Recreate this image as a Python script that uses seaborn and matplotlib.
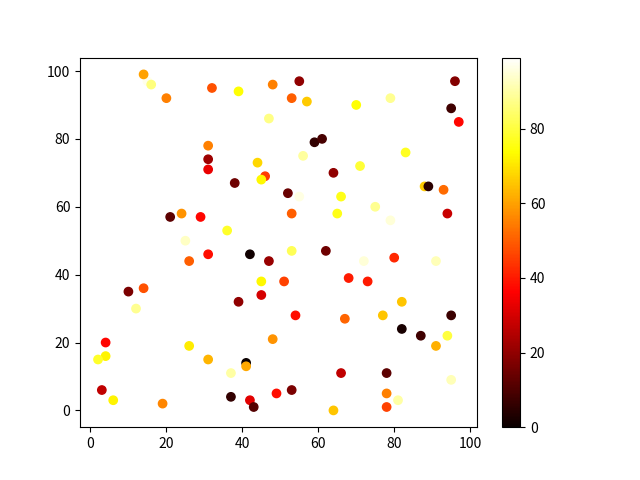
import numpy as np
import pandas as pd
import matplotlib
matplotlib.use("Agg")
import matplotlib.pyplot as plt
import seaborn as sns

plt.rcParams['font.family'] = ['Noto Sans CJK SC', 'DejaVu Sans']

x_vals = [15, 14, 16, 20, 32, 31, 31, 31, 39, 48, 55, 53, 57, 47, 59, 61, 56, 44, 64, 38,
          46, 45, 96, 95, 97, 70, 79, 83, 71, 21, 24, 29, 25, 31, 26, 10, 14, 12, 52, 55,
          66, 53, 65, 36, 42, 47, 53, 62, 45, 51, 45, 39, 68, 88, 89, 93, 75, 94, 79, 80,
          72, 91, 73, 82, 4, 4, 2, 26, 31, 3, 6, 19, 54, 67, 48, 41, 41, 37, 66, 37,
          42, 43, 49, 53, 64, 77, 95, 82, 87, 94, 91, 81, 78, 95, 78, 78, 81]
y_vals = [97, 99, 96, 92, 95, 78, 74, 71, 94, 96, 97, 92, 91, 86, 79, 80, 75, 73, 70, 67,
          69, 68, 97, 89, 85, 90, 92, 76, 72, 57, 58, 57, 50, 46, 44, 35, 36, 30, 64, 63,
          63, 58, 58, 53, 46, 44, 47, 47, 38, 38, 34, 32, 39, 66, 66, 65, 60, 58, 56, 45,
          44, 44, 38, 32, 20, 16, 15, 19, 15, 6, 3, 2, 28, 27, 21, 14, 13, 11, 11, 4,
          3, 1, 5, 6, 0, 28, 28, 24, 22, 22, 19, 17, 11, 9, 5, 1, 3]
c_vals = [97, 60, 86, 55, 48, 55, 22, 33, 74, 55, 20, 50, 66, 87, 6, 9, 89, 68, 20, 15,
          45, 73, 18, 8, 37, 74, 88, 77, 79, 12, 58, 37, 93, 38, 50, 17, 48, 88, 14, 96,
          76, 50, 76, 78, 1, 21, 82, 15, 73, 46, 30, 20, 40, 66, 5, 52, 88, 28, 95, 42,
          95, 92, 40, 65, 37, 72, 78, 71, 63, 27, 72, 56, 38, 51, 58, 0, 61, 90, 27, 6,
          32, 11, 38, 17, 65, 65, 7, 2, 8, 80, 62, 99, 12, 92, 55, 46, 90]

df = pd.DataFrame({"x": x_vals, "y": y_vals, "c": c_vals})

fig, ax = plt.subplots(figsize=(6.4, 4.8), dpi=100)
sns.scatterplot(data=df, x="x", y="y", hue="c", palette="hot", hue_norm=(0, 99),
                legend=False, s=36, edgecolor="face", linewidth=1, ax=ax)
ax.set_xlabel("")
ax.set_ylabel("")
ax.set_xticks([0, 20, 40, 60, 80, 100])
ax.set_yticks([0, 20, 40, 60, 80, 100])

sm = plt.cm.ScalarMappable(cmap="hot", norm=plt.Normalize(0, 99))
sm.set_array([])
fig.colorbar(sm, ax=ax)

fig.savefig("out.png", dpi=100)
